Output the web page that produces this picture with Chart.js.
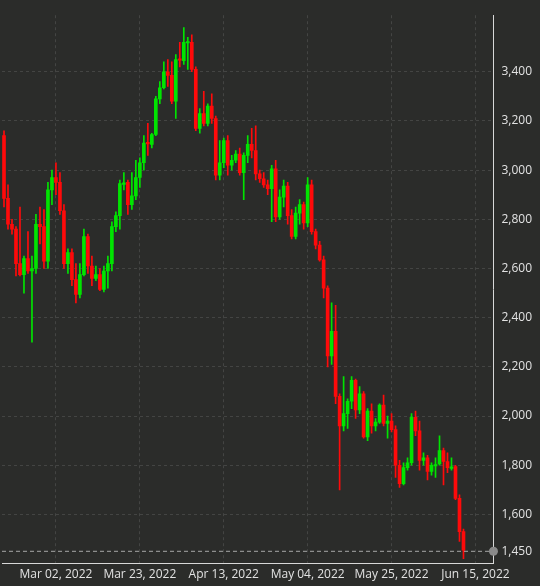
<!DOCTYPE html>
<html>
<head>
<meta charset="utf-8">
<script src="https://cdn.jsdelivr.net/npm/chart.js@4"></script>
<style>
  html, body { margin: 0; padding: 0; background: #2b2c2a; }
  #wrap { width: 540px; height: 586px; }
</style>
</head>
<body>
<div id="wrap"><canvas id="chart"></canvas></div>
<script>
// daily candles, Feb 17 2022 -> Jun 12 2022
const START = '2022-02-17';
const DAYS = 123; // axis runs to Jun 19
const opens  = [3140,2885,2780,2760,2620,2575,2640,2590,2600,2780,2770,2630,2920,2970,2950,2835,2620,2665,2555,2495,2575,2730,2610,2560,2575,2515,2590,2620,2770,2815,2945,2950,2860,2895,2970,3030,3110,3105,3145,3290,3335,3400,3385,3280,3450,3445,3520,3520,3410,3170,3230,3190,3260,3210,2980,3030,3120,3020,3040,3065,2990,3060,3105,3080,2985,2965,2940,2925,3005,2810,2890,2935,2815,2730,2825,2860,2785,2940,2750,2695,2635,2520,2245,2345,2080,1960,2010,2060,2145,2025,2090,1915,2020,1960,1975,2045,1970,1980,1945,1800,1725,1790,1810,1995,1940,1820,1830,1775,1800,1805,1860,1815,1790,1795,1665,1530];
const highs  = [3160,2940,2800,2770,2850,2650,2750,2650,2820,2850,2840,2950,3000,3030,2990,2860,2680,2680,2620,2620,2760,2740,2650,2610,2600,2610,2650,2790,2830,2960,2990,2960,2990,3040,3050,3140,3190,3150,3300,3360,3440,3450,3440,3470,3520,3580,3540,3550,3420,3250,3320,3270,3310,3220,3120,3130,3140,3060,3080,3090,3070,3140,3170,3180,3000,2990,2960,3020,3040,2920,2960,2950,2840,2850,2880,2870,2970,2960,2760,2710,2650,2530,2460,2450,2090,2160,2070,2160,2150,2120,2100,2030,2050,1990,2050,2085,2000,2010,1960,1820,1810,1830,2010,2020,1980,1850,1840,1810,1830,1920,1870,1850,1830,1800,1680,1540];
const lows   = [2850,2760,2740,2570,2570,2500,2580,2300,2580,2700,2600,2600,2860,2900,2820,2600,2580,2530,2460,2480,2570,2580,2530,2550,2510,2505,2520,2590,2750,2760,2920,2820,2840,2880,2930,3000,3060,3090,3140,3270,3330,3340,3270,3210,3420,3430,3410,3400,3160,3150,3180,3180,3190,2960,2960,3010,2980,3000,3030,2980,2880,3030,3050,2960,2950,2930,2900,2790,2790,2800,2850,2780,2720,2720,2780,2760,2770,2740,2680,2630,2480,2200,2210,2050,1700,1940,1950,2030,1990,2010,1910,1900,1930,1940,1970,1960,1910,1935,1750,1710,1720,1780,1800,1920,1780,1800,1740,1760,1750,1800,1720,1770,1780,1660,1490,1420];
const closes = [2885,2780,2760,2620,2575,2640,2590,2600,2780,2770,2630,2920,2970,2950,2835,2620,2665,2555,2495,2575,2730,2610,2560,2575,2515,2590,2620,2770,2815,2945,2950,2860,2895,2970,3030,3110,3105,3145,3290,3335,3400,3385,3280,3450,3445,3520,3520,3410,3170,3230,3190,3260,3210,2980,3030,3120,3020,3040,3065,2990,3060,3105,3080,2985,2965,2940,2925,3005,2810,2890,2935,2815,2730,2825,2860,2785,2940,2750,2695,2635,2520,2245,2345,2080,1960,2010,2060,2145,2025,2090,1915,2020,1960,1975,2045,1970,1980,1945,1800,1725,1790,1810,1995,1940,1820,1830,1775,1800,1805,1860,1815,1790,1795,1665,1530,1455];
const xTickLabels = ['Mar 02, 2022','Mar 23, 2022','Apr 13, 2022','May 04, 2022','May 25, 2022','Jun 15, 2022'];
const yTicks = [1600,1800,2000,2200,2400,2600,2800,3000,3200,3400];
const LAST = 1450;

const UP = '#00e400', DOWN = '#ff0a0a';
const TXT = '#e2e2e2', GRID = 'rgba(255,255,255,0.12)';

const MON = ['Jan','Feb','Mar','Apr','May','Jun','Jul','Aug','Sep','Oct','Nov','Dec'];
const labels = [];
const d0 = new Date(START + 'T00:00:00Z');
for (let i = 0; i < DAYS; i++) {
    const d = new Date(d0.getTime() + i * 86400000);
    labels.push(MON[d.getUTCMonth()] + ' ' + String(d.getUTCDate()).padStart(2, '0') + ', ' + d.getUTCFullYear());
}

const colors = opens.map((o, i) => closes[i] >= o ? UP : DOWN);
const wicks = lows.map((l, i) => [l, highs[i]]);
const bodies = opens.map((o, i) => {
    const c = closes[i];
    return Math.abs(c - o) < 6 ? [o - 3, o + 3] : [o, c];
});

const lastMarker = {
    id: 'lastMarker',
    afterDraw(chart) {
        const { ctx, chartArea } = chart;
        const y = chart.scales.y.getPixelForValue(LAST);
        ctx.save();
        ctx.strokeStyle = 'rgba(220,220,220,0.7)';
        ctx.setLineDash([4, 3]);
        ctx.lineWidth = 1;
        ctx.beginPath();
        ctx.moveTo(chartArea.left, y);
        ctx.lineTo(chartArea.right, y);
        ctx.stroke();
        ctx.setLineDash([]);
        ctx.fillStyle = '#8a8a8a';
        ctx.beginPath();
        ctx.arc(chartArea.right, y, 4.5, 0, Math.PI * 2);
        ctx.fill();
        ctx.restore();
    }
};

new Chart(document.getElementById('chart'), {
    type: 'bar',
    data: {
        labels,
        datasets: [
            { data: wicks, backgroundColor: colors, barThickness: 1, grouped: false, order: 2 },
            { data: bodies, backgroundColor: colors, barThickness: 3, grouped: false, order: 1 }
        ]
    },
    options: {
        responsive: true,
        maintainAspectRatio: false,
        animation: false,
        layout: { padding: { top: -8, right: 0, left: 0, bottom: 0 } },
        plugins: { legend: { display: false }, tooltip: { enabled: false } },
        scales: {
            x: {
                offset: true,
                border: { display: true, color: '#d8d8d8', dash: [3, 3] },
                grid: {
                    offset: false,
                    drawTicks: false,
                    color: c => xTickLabels.includes(labels[c.index]) ? GRID : 'transparent'
                },
                ticks: {
                    autoSkip: false, maxRotation: 0, color: TXT, padding: 4,
                    font: { family: 'Open Sans', size: 12 },
                    callback: (v, i) => xTickLabels.includes(labels[i]) ? labels[i] : ''
                }
            },
            y: {
                position: 'right',
                min: 1400,
                max: 3630,
                border: { display: true, color: '#d8d8d8', dash: [3, 3] },
                afterBuildTicks: ax => { ax.ticks = [LAST].concat(yTicks).map(v => ({ value: v })); },
                grid: {
                    drawTicks: false,
                    color: c => c.tick && c.tick.value === LAST ? 'transparent' : GRID
                },
                ticks: {
                    color: TXT, padding: 8,
                    font: { family: 'Open Sans', size: 12 },
                    callback: v => v.toLocaleString('en-US')
                }
            }
        }
    },
    plugins: [lastMarker]
});
</script>
</body>
</html>
